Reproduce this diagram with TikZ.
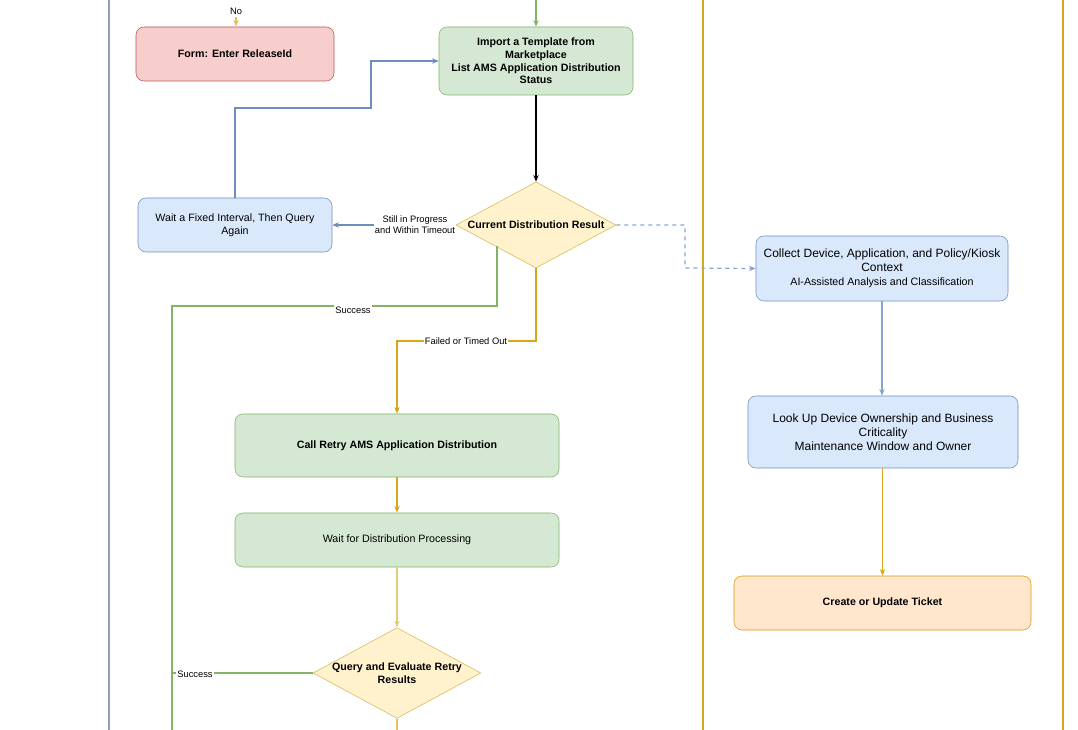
\documentclass[tikz,border=0pt]{standalone}
\usepackage{fontspec}
\setmainfont{Liberation Sans}
\usetikzlibrary{arrows.meta,shapes.geometric}
\definecolor{rf}{HTML}{F8CECC}\definecolor{rs}{HTML}{B85450}
\definecolor{gf}{HTML}{D5E8D4}\definecolor{gs}{HTML}{82B366}
\definecolor{bf}{HTML}{DAE8FC}\definecolor{bs}{HTML}{6C8EBF}
\definecolor{yf}{HTML}{FFF2CC}\definecolor{ys}{HTML}{D6B656}
\definecolor{of}{HTML}{FFE6CC}\definecolor{os}{HTML}{D79B00}
\definecolor{gold}{HTML}{D6A71A}
\begin{document}
\begin{tikzpicture}[x=0.75pt,y=-0.75pt,
 box/.style={draw,rounded corners=6pt,align=center,inner sep=2pt,font=\fontsize{8}{9.5}\selectfont},
 dia/.style={draw=ys,fill=yf,diamond,aspect=1.9,inner sep=0pt,align=center,font=\fontsize{8}{9.5}\selectfont\bfseries},
 arr/.style={-{Stealth[length=5pt,width=4pt]},line width=0.9pt},
 lab/.style={font=\fontsize{7}{8.5}\selectfont,fill=white,inner sep=1pt,align=center,text=black}]
\useasboundingbox (0,0) rectangle (1078,730);
\draw[bs!60!gray!80,line width=1pt] (109,0)--(109,730);
\draw[gold,line width=1pt] (703,0)--(703,730);
\draw[gold,line width=1pt] (1063,0)--(1063,730);
\node[box,draw=rs,fill=rf,minimum width=198*0.75pt,minimum height=54*0.75pt,font=\fontsize{8}{9.5}\selectfont\bfseries] (form) at (235,54) {Form: Enter ReleaseId};
\node[box,draw=gs,fill=gf,minimum width=194*0.75pt,minimum height=68*0.75pt,font=\fontsize{8}{9.5}\selectfont\bfseries] (imp) at (536,61) {Import a Template from\\Marketplace\\List AMS Application Distribution\\Status};
\node[dia,minimum width=160*0.75pt,minimum height=86*0.75pt] (d1) at (536,225) {Current Distribution Result};
\node[box,draw=bs,fill=bf,minimum width=194*0.75pt,minimum height=54*0.75pt] (wait) at (235,225) {Wait a Fixed Interval, Then Query\\Again};
\node[box,draw=gs,fill=gf,minimum width=324*0.75pt,minimum height=63*0.75pt,font=\fontsize{8}{9.5}\selectfont\bfseries] (retry) at (397,445.5) {Call Retry AMS Application Distribution};
\node[box,draw=gs,fill=gf,minimum width=324*0.75pt,minimum height=54*0.75pt] (wproc) at (397,540) {Wait for Distribution Processing};
\node[dia,minimum width=156*0.75pt,minimum height=84*0.75pt,aspect=1.85] (d2) at (397,673) {Query and Evaluate Retry\\Results};
\node[box,draw=bs,fill=bf,minimum width=252*0.75pt,minimum height=65*0.75pt,font=\fontsize{9}{10.5}\selectfont] (coll) at (882,268.5) {Collect Device, Application, and Policy/Kiosk\\Context\\{\fontsize{8}{9.5}\selectfont AI-Assisted Analysis and Classification}};
\node[box,draw=bs,fill=bf,minimum width=270*0.75pt,minimum height=72*0.75pt,font=\fontsize{9}{10.5}\selectfont] (look) at (883,432) {Look Up Device Ownership and Business\\Criticality\\Maintenance Window and Owner};
\node[box,draw=os,fill=of,minimum width=297*0.75pt,minimum height=54*0.75pt,font=\fontsize{8}{9.5}\selectfont\bfseries] (tick) at (882.5,603) {Create or Update Ticket};
\coordinate (top) at (536,0);
\coordinate (no) at (236,17);
\node[font=\fontsize{7}{8.5}\selectfont] (nol) at (236,11) {No};
\draw[arr,gold!70] (no)--(form.north-|no);
\draw[arr,gs] (top)--(imp.north);
\draw[arr,black] (imp.south)--(d1.north);
\draw[arr,bs] (d1.west)--(wait.east) node[lab,pos=0.33] {Still in Progress\\and Within Timeout};
\draw[arr,bs] (wait.north)--(235,108)--(371,108)--(371,61)--(imp.west);
\coordinate (s1) at (497,246);
\coordinate (b1) at (172,730);
\draw[gs,line width=0.9pt] (s1)--(497,306)--(172,306)--(b1);
\node[lab] (sl) at (353,310) {Success};
\draw[arr,gold] (d1.south)--(536,341)--(397,341)--(retry.north);
\node[lab] (fl) at (466,341) {Failed or Timed Out};
\draw[arr,gold] (retry.south)--(wproc.north);
\draw[arr,gold!60] (wproc.south)--(d2.north);
\draw[gs,line width=0.9pt] (d2.west)--(172,673);
\node[lab] (sl2) at (195,674) {Success};
\coordinate (b2) at (397,730);
\draw[gold!70,line width=0.9pt] (d2.south)--(b2);
\draw[arr,bs!80,dashed] (d1.east)--(685,225)--(685,268)--(coll.west);
\draw[arr,bs!80] (coll.south)--(coll.south|-look.north);
\draw[arr,gold] (look.south-|tick)--(tick.north);
\end{tikzpicture}
\end{document}
